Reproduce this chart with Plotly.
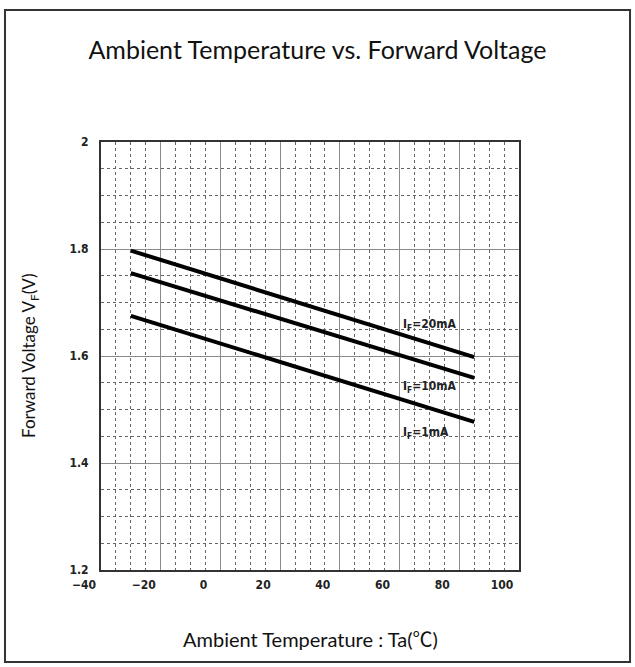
import plotly.graph_objects as go

# Ambient temperature (C) at line ends
temp = [-30, 85]

# Forward voltage (V) for each forward current
vf_20ma = [1.797, 1.598]
vf_10ma = [1.755, 1.559]
vf_1ma = [1.675, 1.477]

series_names = ["I<sub>F</sub>=20mA", "I<sub>F</sub>=10mA", "I<sub>F</sub>=1mA"]
label_x = [70, 70, 69]
label_y = [1.658, 1.542, 1.456]

x_ticks = [-40, -20, 0, 20, 40, 60, 80, 100]
y_ticks = [1.2, 1.4, 1.6, 1.8, 2.0]
y_tick_text = ["1.2", "1.4", "1.6", "1.8", "2"]

fig = go.Figure()
for vals in [vf_20ma, vf_10ma, vf_1ma]:
    fig.add_trace(go.Scatter(
        x=temp, y=vals, mode="lines",
        line=dict(color="black", width=4),
        showlegend=False
    ))

narrow = "DejaVu Sans Condensed, Liberation Sans Narrow, sans-serif"

for name, lx, ly in zip(series_names, label_x, label_y):
    fig.add_annotation(
        x=lx, y=ly, text=name, showarrow=False,
        font=dict(family=narrow, size=12, color="#222", weight="bold")
    )

tick_font = dict(family=narrow, size=12, color="#222", weight="bold")

fig.update_xaxes(
    range=[-40, 100], tickvals=x_ticks, ticks="", tickfont=tick_font,
    showgrid=True, gridcolor="#8a8a8a", gridwidth=1,
    minor=dict(dtick=5, showgrid=True, gridcolor="#666", griddash="dot", gridwidth=1),
    showline=True, linecolor="#333", linewidth=2, mirror=True,
    zeroline=False, ticklabelshift=-17, ticklabelstandoff=3
)
fig.update_yaxes(
    range=[1.2, 2.0], tickvals=y_ticks, ticktext=y_tick_text, ticks="", tickfont=tick_font,
    showgrid=True, gridcolor="#8a8a8a", gridwidth=1,
    minor=dict(dtick=0.05, showgrid=True, gridcolor="#666", griddash="dot", gridwidth=1),
    showline=True, linecolor="#333", linewidth=2, mirror=True,
    zeroline=False, ticklabelstandoff=8
)

text_font = dict(family="Lato, Noto Sans CJK JP, sans-serif", color="#111")

fig.add_annotation(
    xref="paper", yref="paper", x=0.5, y=-0.159,
    text="Ambient Temperature : Ta(<span style='font-family:Noto Sans CJK JP'>℃</span>)",
    showarrow=False,
    font=dict(size=20, **text_font), yanchor="middle"
)
fig.add_annotation(
    xref="paper", yref="paper", x=-0.17, y=0.5,
    text="Forward Voltage V<sub>F</sub>(V)", showarrow=False, textangle=-90,
    font=dict(size=17, **text_font), xanchor="center"
)

# outer frame around the whole figure
fig.add_shape(
    type="rect", xref="paper", yref="paper",
    x0=-0.2297, x1=1.2656, y0=-0.215, y1=1.3084,
    line=dict(color="#333", width=2)
)

fig.update_layout(
    width=635, height=667,
    title=dict(text="Ambient Temperature vs. Forward Voltage",
               x=0.5, xanchor="center", y=1 - 50 / 667, yanchor="middle",
               font=dict(size=25, **text_font)),
    margin=dict(l=101, r=116, t=142, b=97),
    plot_bgcolor="white", paper_bgcolor="white"
)

fig.write_html("out.html", config={"displayModeBar": False},
               post_script="document.body.style.margin='0';")
